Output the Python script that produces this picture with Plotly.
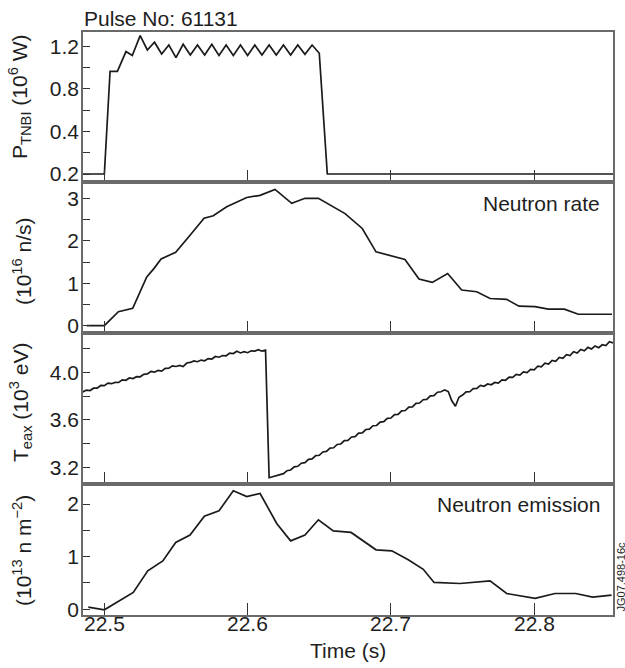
import numpy as np
import plotly.graph_objects as go

# ---------------- data ----------------
# Panel 1: NBI power (axis baseline labelled "0.2")
nbi_t = [22.4851, 22.5, 22.504, 22.5091, 22.5151, 22.5195,
         22.525, 22.530, 22.535, 22.540, 22.545, 22.550, 22.555, 22.560,
         22.565, 22.570, 22.575, 22.580, 22.585, 22.590, 22.595, 22.600,
         22.605, 22.610, 22.615, 22.620, 22.625, 22.630, 22.635, 22.640,
         22.645, 22.650, 22.6556, 22.855]
nbi_v = [0.0, 0.0, 0.965, 0.965, 1.15, 1.113,
         1.30, 1.165, 1.238, 1.128, 1.212, 1.094, 1.219, 1.118,
         1.212, 1.118, 1.219, 1.113, 1.212, 1.113, 1.212, 1.113,
         1.212, 1.118, 1.212, 1.118, 1.212, 1.118, 1.212, 1.125,
         1.212, 1.134, 0.0, 0.0]

# Panel 2: neutron rate
nr_t = [22.4877, 22.5, 22.5098, 22.5198, 22.5296, 22.5347, 22.5396, 22.5498,
        22.5598, 22.5696, 22.576, 22.5854, 22.5994, 22.6087, 22.6191, 22.6308,
        22.640, 22.6494, 22.668, 22.680, 22.6896, 22.7098, 22.7196, 22.7289,
        22.7396, 22.7494, 22.7599, 22.7692, 22.7808, 22.7894, 22.8006, 22.8098,
        22.821, 22.8308, 22.8543]
nr_v = [0.0, 0.0, 0.33, 0.41, 1.15, 1.35, 1.57, 1.73,
        2.13, 2.53, 2.59, 2.80, 3.02, 3.07, 3.21, 2.88,
        3.0, 3.0, 2.64, 2.29, 1.74, 1.56, 1.10, 1.02,
        1.23, 0.84, 0.80, 0.64, 0.62, 0.46, 0.45, 0.39,
        0.39, 0.27, 0.27]

# Panel 3: T_eax, sampled every 2.5 ms (before and after the crash)
teax_dt = 0.0025
teax_a_t0 = 22.485
teax_a = [3.835, 3.850, 3.846, 3.866, 3.866, 3.889, 3.887, 3.909, 3.904, 3.915,
          3.914, 3.936, 3.933, 3.952, 3.947, 3.963, 3.962, 3.983, 3.987, 4.007,
          4.001, 4.016, 4.010, 4.033, 4.035, 4.054, 4.049, 4.058, 4.048, 4.078,
          4.083, 4.096, 4.089, 4.103, 4.097, 4.115, 4.112, 4.133, 4.127, 4.141,
          4.139, 4.161, 4.158, 4.177, 4.163, 4.174, 4.165, 4.181, 4.179, 4.191,
          4.178, 4.187]
teax_b_t0 = 22.615
teax_b = [3.112, 3.121, 3.126, 3.139, 3.146, 3.171, 3.177, 3.203, 3.208, 3.234,
          3.239, 3.266, 3.270, 3.298, 3.301, 3.329, 3.334, 3.361, 3.364, 3.392,
          3.396, 3.424, 3.427, 3.455, 3.458, 3.487, 3.490, 3.518, 3.521, 3.550,
          3.552, 3.581, 3.584, 3.612, 3.615, 3.644, 3.646, 3.675, 3.678, 3.706,
          3.709, 3.738, 3.741, 3.769, 3.772, 3.801, 3.804, 3.832, 3.836, 3.852,
          3.838, 3.760, 3.714, 3.790, 3.808, 3.835, 3.836, 3.863, 3.864, 3.890,
          3.882, 3.902, 3.895, 3.914, 3.909, 3.936, 3.933, 3.960, 3.957, 3.982,
          3.977, 4.003, 3.998, 4.024, 4.021, 4.051, 4.046, 4.076, 4.070, 4.100,
          4.093, 4.125, 4.117, 4.149, 4.141, 4.173, 4.162, 4.192, 4.181, 4.210,
          4.197, 4.222, 4.207, 4.232, 4.226, 4.258, 4.248]

# Panel 4: neutron emission
ne_t = [22.4888, 22.5, 22.5202, 22.5303, 22.5408, 22.5498, 22.5598, 22.5698,
        22.58, 22.59, 22.5994, 22.6087, 22.6203, 22.630, 22.640, 22.6494,
        22.6598, 22.6722, 22.6896, 22.7006, 22.7121, 22.7226, 22.7301, 22.7482,
        22.7692, 22.7808, 22.8006, 22.8145, 22.829, 22.8408, 22.854]
ne_v = [0.04, -0.01, 0.32, 0.73, 0.92, 1.27, 1.41, 1.77,
        1.87, 2.25, 2.14, 2.20, 1.63, 1.30, 1.41, 1.70,
        1.49, 1.46, 1.13, 1.11, 0.94, 0.76, 0.51, 0.49,
        0.54, 0.30, 0.21, 0.30, 0.30, 0.23, 0.27]

# ticks
x_ticks = [22.5, 22.6, 22.7, 22.8]
x_ticktext = ["22.5", "22.6", "22.7", "22.8"]
p1_ticks = [0.0, 0.4, 0.8, 1.2]
p1_ticktext = ["0.2", "0.4", "0.8", "1.2"]
p1_minor = [0.2, 0.6, 1.0]
p2_ticks = [0, 1, 2, 3]
p2_ticktext = ["0", "1", "2", "3"]
p2_minor = [0.5, 1.5, 2.5]
p3_ticks = [3.2, 3.6, 4.0]
p3_ticktext = ["3.2", "3.6", "4.0"]
p3_minor = [3.4, 3.8, 4.2]
p4_ticks = [0, 1, 2]
p4_ticktext = ["0", "1", "2"]
p4_minor = [0.5, 1.5]

# ---------------- figure ----------------
teax_t = ([teax_a_t0 + teax_dt * i for i in range(len(teax_a))] +
          [teax_b_t0 + teax_dt * i for i in range(len(teax_b))])
teax_v = teax_a + teax_b

LINE = dict(color="#1a1a1a", width=1.7)
FONT = "Liberation Sans, Arial, Helvetica, sans-serif"

fig = go.Figure()
fig.add_trace(go.Scatter(x=nbi_t, y=nbi_v, mode="lines", line=LINE, xaxis="x", yaxis="y"))
fig.add_trace(go.Scatter(x=nr_t, y=nr_v, mode="lines", line=LINE, xaxis="x2", yaxis="y2"))
fig.add_trace(go.Scatter(x=teax_t, y=teax_v, mode="lines", line=LINE, xaxis="x3", yaxis="y3"))
fig.add_trace(go.Scatter(x=ne_t, y=ne_v, mode="lines", line=LINE, xaxis="x4", yaxis="y4"))

XR = [22.4851, 22.855]
frame = dict(showline=True, linecolor="#6a6a6a", linewidth=1.6, mirror=True,
             showgrid=False, zeroline=False, ticks="inside", tickcolor="#333",
             tickwidth=1.3, automargin=False)

def xax(anchor):
    return dict(frame, range=XR, tickmode="array", tickvals=x_ticks, ticktext=x_ticktext,
                ticklen=12, anchor=anchor, domain=[0, 1], showticklabels=False)

def yax(anchor, dom, rng, tv, tt, mv):
    return dict(frame, range=rng, domain=dom, anchor=anchor, tickmode="array",
                tickvals=tv, ticktext=tt, ticklen=7, ticklabelstandoff=-2,
                minor=dict(tickmode="array", tickvals=mv, ticks="inside", ticklen=7,
                           tickcolor="#333", tickwidth=1.3))

H = 583.0
def dom(top_px, bot_px):
    return [(615 - bot_px) / H, (615 - top_px) / H]

fig.update_layout(
    width=625, height=668,
    margin=dict(l=83, r=12, t=32, b=53),
    paper_bgcolor="white", plot_bgcolor="white",
    showlegend=False,
    font=dict(family=FONT, size=21, color="#1e1e1e"),
    xaxis=xax("y"),
    xaxis2=xax("y2"),
    xaxis3=xax("y3"),
    xaxis4=xax("y4"),
    yaxis=yax("x", dom(32, 182), [-0.075, 1.334], p1_ticks, p1_ticktext, p1_minor),
    yaxis2=yax("x2", dom(182, 333), [-0.172, 3.384], p2_ticks, p2_ticktext, p2_minor),
    yaxis3=yax("x3", dom(333, 484), [3.059, 4.331], p3_ticks, p3_ticktext, p3_minor),
    yaxis4=yax("x4", dom(484, 615), [-0.108, 2.38], p4_ticks, p4_ticktext, p4_minor),
)

def px_x(p):
    return (p - 83) / 530.0

def px_y(p):
    return (615 - p) / H

ann = [
    dict(text="Pulse No: 61131", x=px_x(82), y=px_y(18.5), xanchor="left", yanchor="middle"),
    dict(text="Neutron rate", x=px_x(602), y=px_y(203), xanchor="right", yanchor="middle"),
    dict(text="Neutron emission", x=px_x(602), y=px_y(504), xanchor="right", yanchor="middle"),
    dict(text="Time (s)", x=px_x(348), y=px_y(650), xanchor="center", yanchor="middle"),
    dict(text="P<sub>TNBI</sub> (10<sup>6</sup> W)", x=px_x(20), y=px_y(97),
         textangle=-90, xanchor="center", yanchor="middle"),
    dict(text="(10<sup>16</sup> n/s)", x=px_x(22), y=px_y(261),
         textangle=-90, xanchor="center", yanchor="middle"),
    dict(text="T<sub>eax</sub> (10<sup>3</sup> eV)", x=px_x(20), y=px_y(403),
         textangle=-90, xanchor="center", yanchor="middle"),
    dict(text="(10<sup>13</sup> n m<sup>−2</sup>)", x=px_x(22), y=px_y(551),
         textangle=-90, xanchor="center", yanchor="middle"),
    dict(text="JG07.498-16c", x=px_x(620.5), y=px_y(577), textangle=-90,
         xanchor="center", yanchor="middle", font=dict(size=11)),
]
for a in ann:
    a.update(xref="paper", yref="paper", showarrow=False)
    fig.add_annotation(**a)

# bottom time tick labels, placed at the tick values of the shared time axis
for tv, tt in zip(x_ticks, x_ticktext):
    fig.add_annotation(text=tt, x=tv, xref="x4", y=px_y(623), yref="paper",
                       xanchor="center", yanchor="middle", showarrow=False)

fig.write_html("out.html")
